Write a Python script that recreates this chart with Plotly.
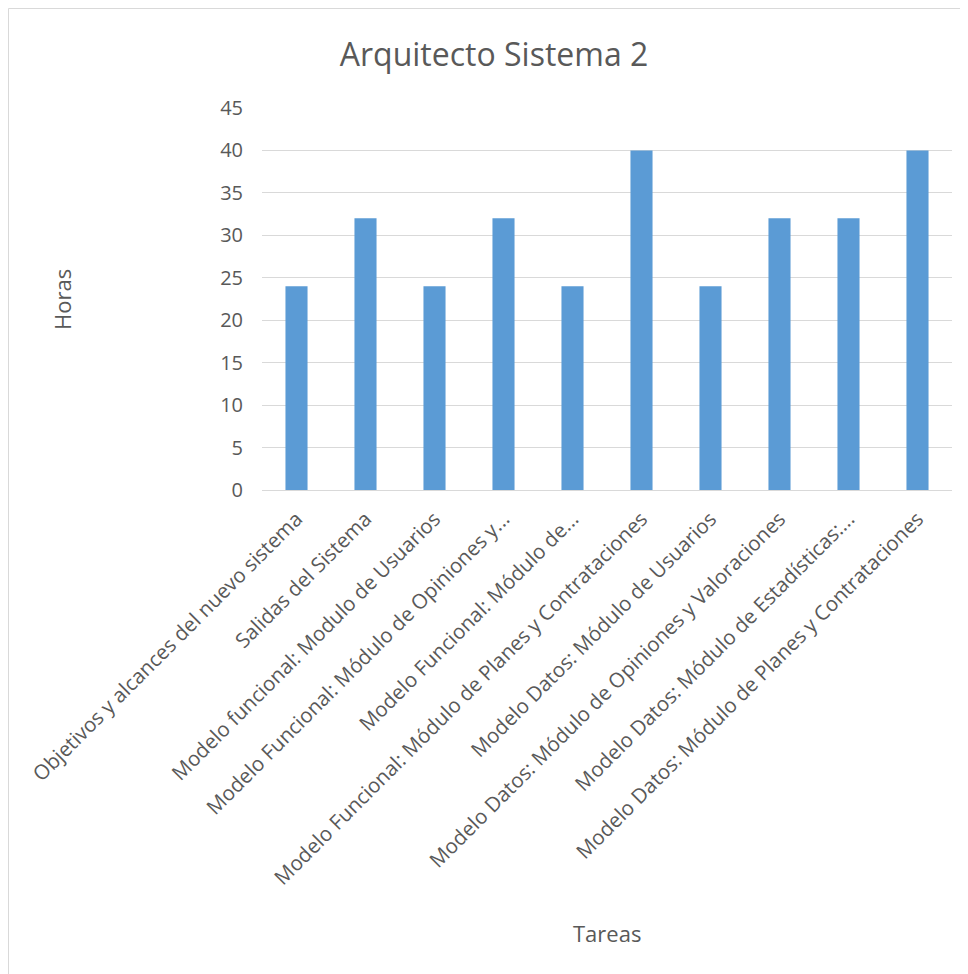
import plotly.graph_objects as go

categorias = [
    "Objetivos y alcances del nuevo sistema",
    "Salidas del Sistema",
    "Modelo funcional: Modulo de Usuarios",
    "Modelo Funcional: Módulo de Opiniones y...",
    "Modelo Funcional: Módulo de...",
    "Modelo Funcional: Módulo de Planes y Contrataciones",
    "Modelo Datos: Módulo de Usuarios",
    "Modelo Datos: Módulo de Opiniones y Valoraciones",
    "Modelo Datos: Módulo de Estadísticas:...",
    "Modelo Datos: Módulo de Planes y Contrataciones",
]
horas = [24, 32, 24, 32, 24, 40, 24, 32, 32, 40]
y_ticks = [0, 5, 10, 15, 20, 25, 30, 35, 40, 45]

W, H = 968, 974
OFF = 8  # page offset of the figure
L, R, T, B = 262 - OFF, 16 + OFF, 108 - OFF, 974 - (490 - OFF)

pw = W - L - R
ph = H - T - B


def px_x(x):
    return (x - OFF - L) / pw


def px_y(y):
    return (H - B - (y - OFF)) / ph


fig = go.Figure(go.Bar(
    x=categorias, y=horas,
    marker=dict(color="#5b9bd5", line=dict(width=0)),
    width=0.32,
))

fig.update_layout(
    width=W, height=H,
    margin=dict(l=L, r=R, t=T, b=B),
    plot_bgcolor="white", paper_bgcolor="white",
    font=dict(family="Open Sans, Liberation Sans, sans-serif", color="#595959", size=18),
    showlegend=False,
    title=dict(text="Arquitecto Sistema 2", x=(494 - OFF) / W, xanchor="center",
               y=1 - (55 - OFF) / H, yanchor="middle",
               font=dict(size=32, color="#595959")),
    xaxis=dict(tickangle=-45, automargin=False, showgrid=False, showline=False,
               ticks="", tickfont=dict(size=20.5, color="#595959"),
               ticklabelstandoff=12),
    yaxis=dict(range=[0, 45], tickvals=y_ticks, showgrid=True, gridcolor="#d9d9d9",
               gridwidth=1, zeroline=True, zerolinecolor="#d9d9d9", zerolinewidth=1,
               ticks="", automargin=False, tickfont=dict(size=20, color="#595959"),
               ticklabelstandoff=18),
    annotations=[
        dict(text="Horas", xref="paper", yref="paper",
             x=px_x(62), y=px_y(300), showarrow=False, textangle=-90,
             font=dict(size=22, color="#595959"), xanchor="center", yanchor="middle"),
        dict(text="Tareas", xref="paper", yref="paper",
             x=px_x(607), y=px_y(933), showarrow=False,
             font=dict(size=22, color="#595959"), xanchor="center", yanchor="middle"),
    ],
    shapes=[
        dict(type="rect", xref="paper", yref="paper",
             x0=px_x(8.5), x1=px_x(W + 20),
             y0=px_y(H + 20), y1=px_y(8.5),
             line=dict(color="#d9d9d9", width=1), fillcolor="rgba(0,0,0,0)", layer="below"),
    ],
)

fig.write_html("out.html")
